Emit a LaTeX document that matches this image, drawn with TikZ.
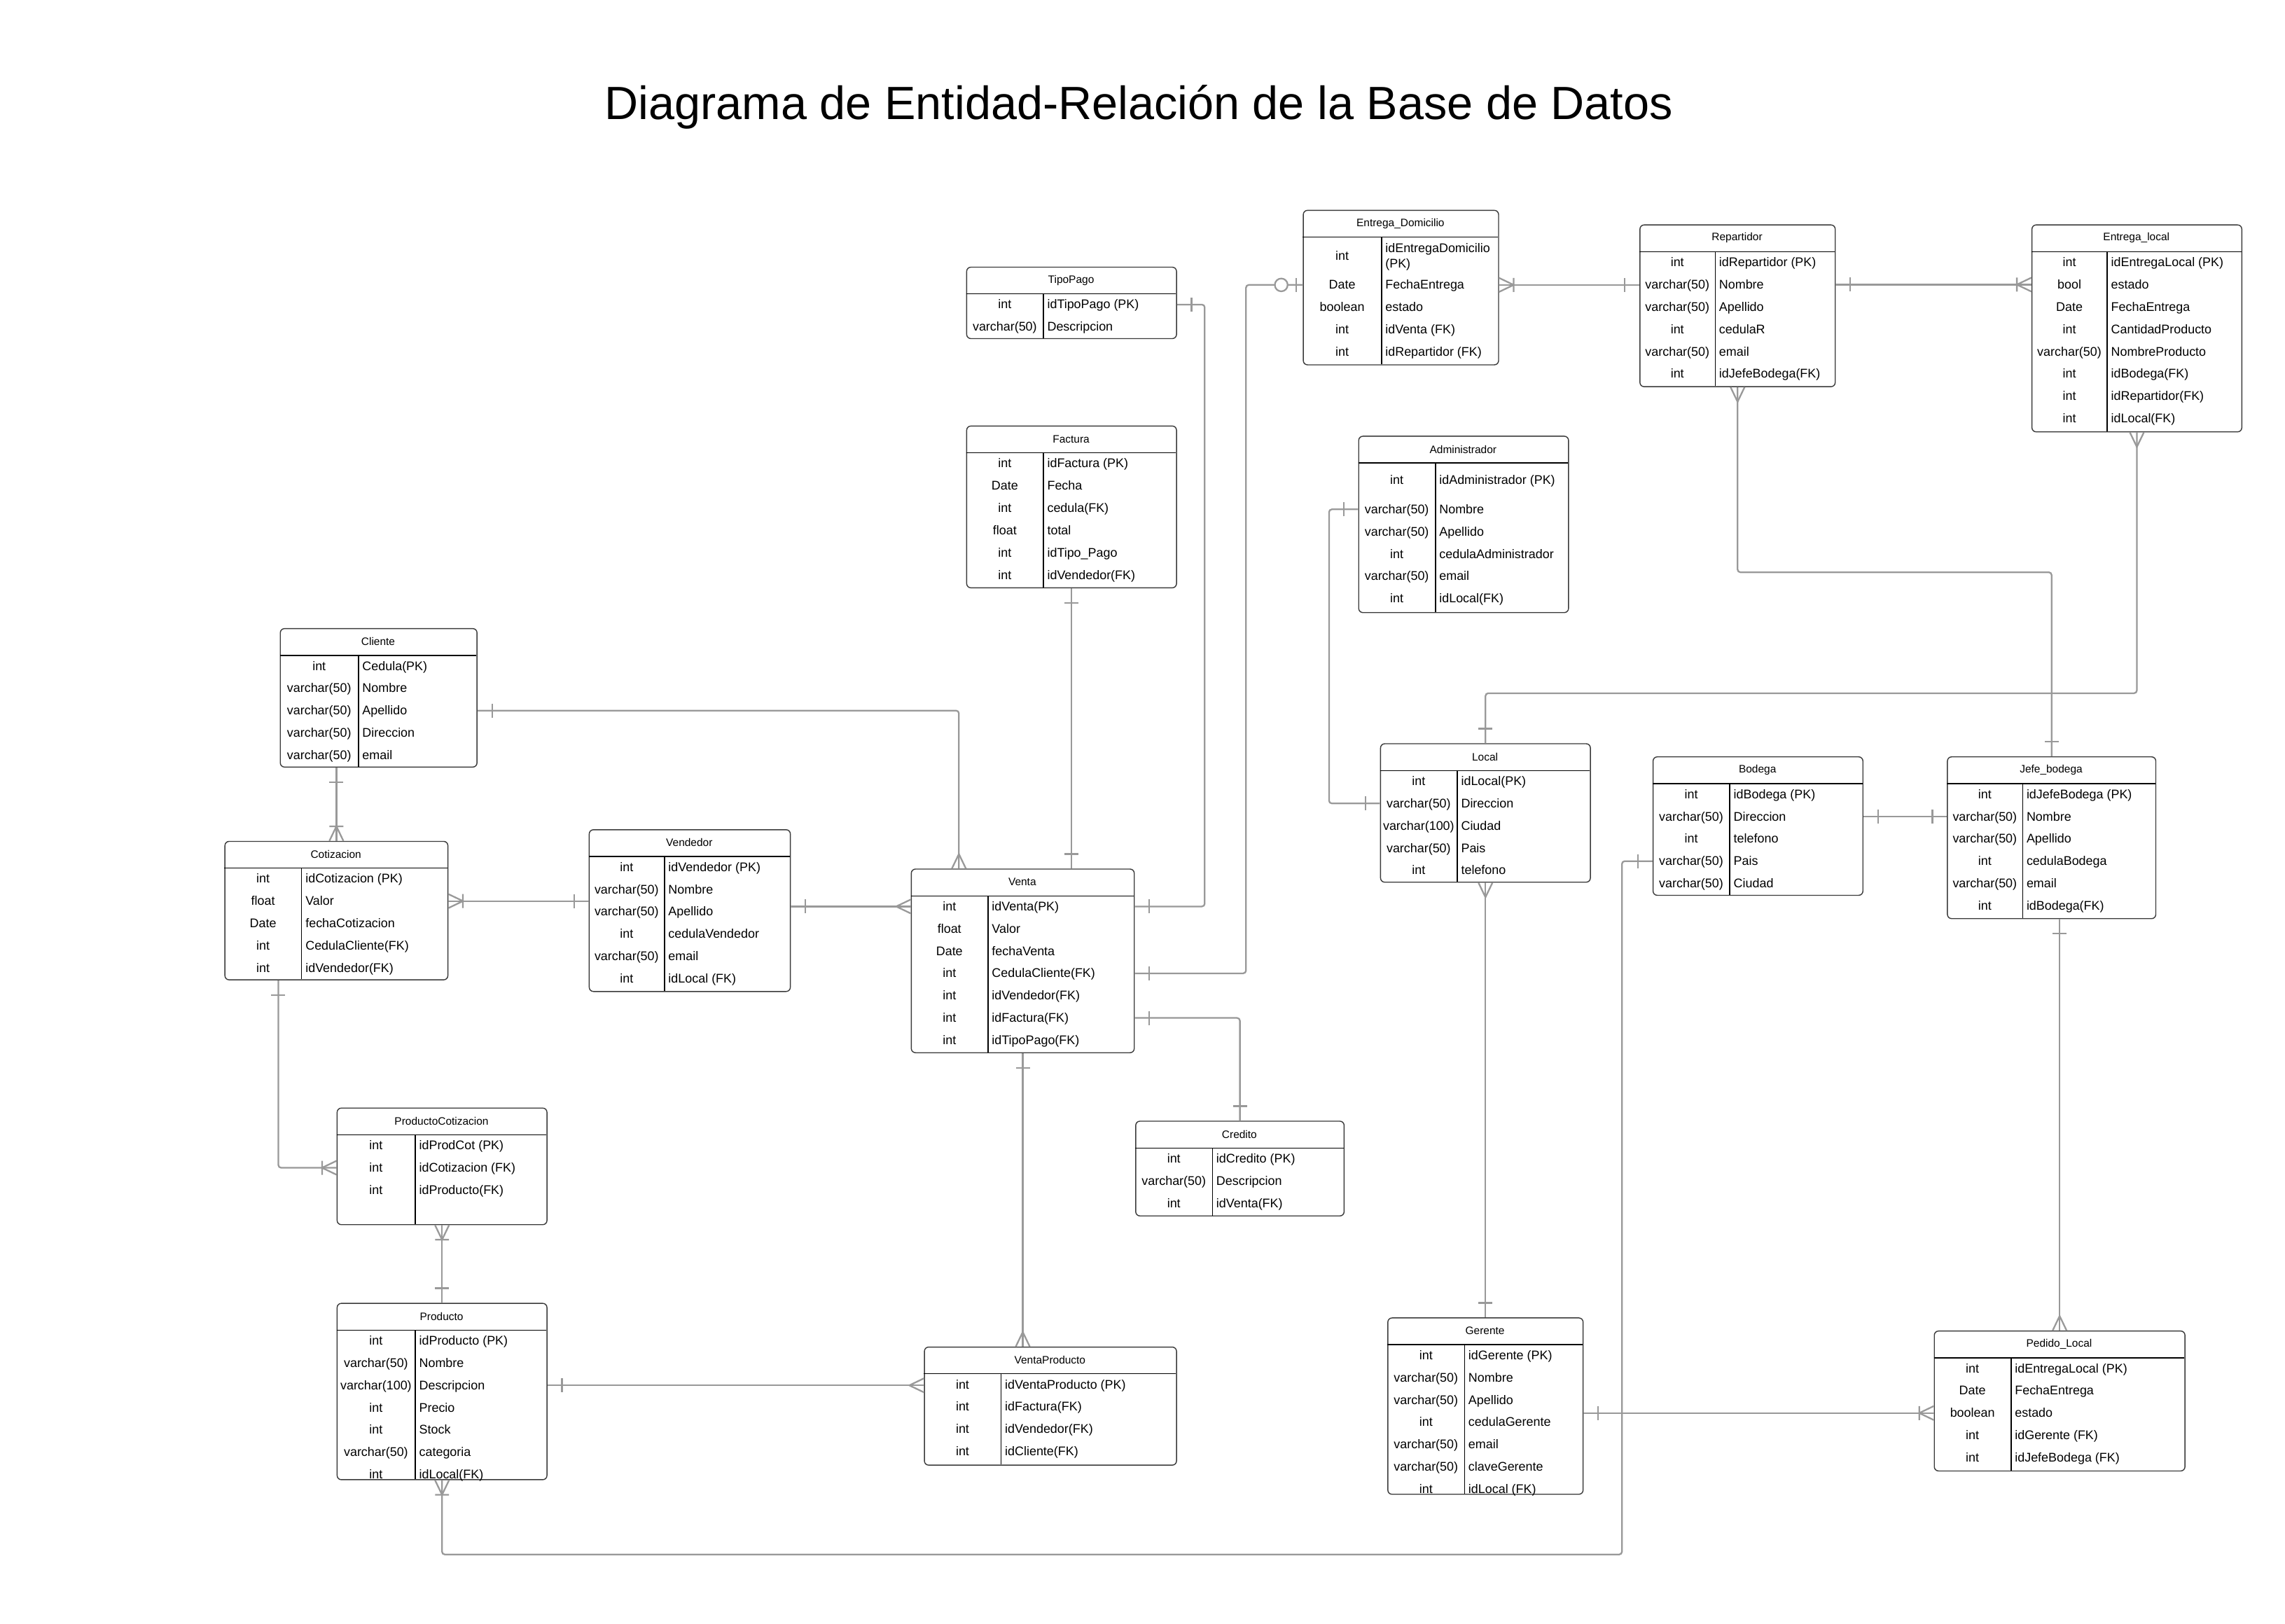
\documentclass[tikz,border=0pt]{standalone}
\usepackage{fontspec}
\setmainfont{Liberation Sans}
\usetikzlibrary{calc}

\definecolor{linea}{HTML}{999999}
\definecolor{bordecaja}{HTML}{3A3A3A}

\newcommand{\pxu}{0.4162mm}
\newcommand{\salto}{0}

% entidad: id, x, arriba, ancho, alto, division, nombre, primera fila, filas
\newcommand{\entidad}[9]{%
  \node[tabla, minimum width=#4*\pxu, minimum height=#5*\pxu, anchor=north west] (#1) at (#2,#3) {};
  \node[nombre] at (#2+#4/2,#3+9.3) {#7};
  \draw[raya] (#2,#3+18.7) -- ++(#4,0);
  \draw[raya] (#2+#6,#3+18.7) -- (#2+#6,#3+#5);
  \foreach \tipo/\campo [count=\i] in {#9}{
    \pgfmathsetmacro{\yfila}{#3+18.7+#8+(\i-1)*15.3+(\i>1)*\salto}
    \node[tipo] (#1-\i) at (#2+#6/2,\yfila) {\tipo};
    \node[campo] at (#2+#6+2.5,\yfila) {\campo};
  }%
}

\tikzset{
  uno/.pic={\draw[conector] (10,-4.8) -- (10,4.8);},
  muchos/.pic={\draw[conector] (0,-4.8) -- (10,0) -- (0,4.8);},
  unomuchos/.pic={\draw[conector] (0,-4.8) -- (10,0) -- (0,4.8) (10,-4.8) -- (10,4.8);},
  cerouno/.pic={\draw[conector] (4.5,-4.8) -- (4.5,4.8);
    \draw[conector,fill=white] (14.8,0) circle (4.4);}
}

\begin{document}
\begin{tikzpicture}[x=0.4162mm,y=-0.4162mm,
  tabla/.style={draw=bordecaja,fill=white,line width=0.8pt,rounded corners=1.2mm,inner sep=0pt},
  raya/.style={draw=black,line width=0.8pt},
  nombre/.style={font=\fontsize{8.8}{10.5}\selectfont,inner sep=0pt},
  tipo/.style={font=\fontsize{10.2}{12.3}\selectfont,inner sep=0pt,text height=0.9em,text depth=0.21em},
  campo/.style={tipo,anchor=west},
  conector/.style={draw=linea,line width=1.3pt}]
\fill[white] (0,0) rectangle (1568,1114);
\useasboundingbox (0,0) rectangle (1568,1114);

\node[font=\fontsize{37.9}{45}\selectfont,anchor=base] (titulo) at (781.5,82)
  {Diagrama de Entidad-Relación de la Base de Datos};

% tablas
\entidad{tipopago}{663}{183}{144}{49}{53}{TipoPago}{7.3}
  {int/idTipoPago (PK),varchar(50)/Descripcion}
\entidad{factura}{663}{292}{144}{111}{53}{Factura}{7.3}
  {int/idFactura (PK),Date/Fecha,int/cedula(FK),float/total,int/idTipo\_Pago,int/idVendedor(FK)}
\begin{scope}
\renewcommand{\salto}{4.7}
\entidad{entregaDom}{894}{144}{134}{106}{54}{Entrega\_Domicilio}{12.8}
  {int/{\raisebox{-.6em}{\shortstack[l]{idEntregaDomicilio\\(PK)}}},Date/FechaEntrega,
   boolean/estado,int/idVenta (FK),int/idRepartidor (FK)}
\entidad{admin}{932}{299}{144}{121}{53}{Administrador}{11.8}
  {int/idAdministrador (PK),varchar(50)/Nombre,varchar(50)/Apellido,
   int/cedulaAdministrador,varchar(50)/email,int/idLocal(FK)}
\end{scope}
\entidad{repartidor}{1125}{154}{134}{111}{52}{Repartidor}{7.3}
  {int/idRepartidor (PK),varchar(50)/Nombre,varchar(50)/Apellido,int/cedulaR,
   varchar(50)/email,int/idJefeBodega(FK)}
\entidad{entregaLocal}{1394}{154}{144}{142}{52}{Entrega\_local}{7.3}
  {int/idEntregaLocal (PK),bool/estado,Date/FechaEntrega,int/CantidadProducto,
   varchar(50)/NombreProducto,int/idBodega(FK),int/idRepartidor(FK),int/idLocal(FK)}
\entidad{cliente}{192}{431}{135}{95}{54}{Cliente}{7.3}
  {int/Cedula(PK),varchar(50)/Nombre,varchar(50)/Apellido,varchar(50)/Direccion,varchar(50)/email}
\entidad{cotizacion}{154}{577}{153}{95}{53}{Cotizacion}{7.3}
  {int/idCotizacion (PK),float/Valor,Date/fechaCotizacion,int/CedulaCliente(FK),int/idVendedor(FK)}
\entidad{vendedor}{404}{569}{138}{111}{52}{Vendedor}{7.3}
  {int/idVendedor (PK),varchar(50)/Nombre,varchar(50)/Apellido,int/cedulaVendedor,
   varchar(50)/email,int/idLocal (FK)}
\entidad{venta}{625}{596}{153}{126}{53}{Venta}{7.3}
  {int/idVenta(PK),float/Valor,Date/fechaVenta,int/CedulaCliente(FK),int/idVendedor(FK),
   int/idFactura(FK),int/idTipoPago(FK)}
\entidad{local}{947}{510}{144}{95}{53}{Local}{7.3}
  {int/idLocal(PK),varchar(50)/Direccion,varchar(100)/Ciudad,varchar(50)/Pais,int/telefono}
\entidad{bodega}{1134}{519}{144}{95}{53}{Bodega}{7.3}
  {int/idBodega (PK),varchar(50)/Direccion,int/telefono,varchar(50)/Pais,varchar(50)/Ciudad}
\entidad{jefe}{1336}{519}{143}{111}{52}{Jefe\_bodega}{7.3}
  {int/idJefeBodega (PK),varchar(50)/Nombre,varchar(50)/Apellido,int/cedulaBodega,
   varchar(50)/email,int/idBodega(FK)}
\entidad{credito}{779}{769}{143}{65}{53}{Credito}{7.3}
  {int/idCredito (PK),varchar(50)/Descripcion,int/idVenta(FK)}
\entidad{prodCot}{231}{760}{144}{80}{54}{ProductoCotizacion}{7.3}
  {int/idProdCot (PK),int/idCotizacion (FK),int/idProducto(FK)}
\entidad{producto}{231}{894}{144}{121}{54}{Producto}{7.3}
  {int/idProducto (PK),varchar(50)/Nombre,varchar(100)/Descripcion,int/Precio,int/Stock,
   varchar(50)/categoria,int/idLocal(FK)}
\entidad{ventaProd}{634}{924}{173}{81}{53}{VentaProducto}{7.3}
  {int/idVentaProducto (PK),int/idFactura(FK),int/idVendedor(FK),int/idCliente(FK)}
\entidad{gerente}{952}{904}{134}{121}{53}{Gerente}{7.3}
  {int/idGerente (PK),varchar(50)/Nombre,varchar(50)/Apellido,int/cedulaGerente,
   varchar(50)/email,varchar(50)/claveGerente,int/idLocal (FK)}
\entidad{pedido}{1327}{913}{172}{96}{53}{Pedido\_Local}{7.3}
  {int/idEntregaLocal (PK),Date/FechaEntrega,boolean/estado,int/idGerente (FK),int/idJefeBodega (FK)}

% relaciones
\begin{scope}[conector,rounded corners=0.8mm]
\draw (tipopago.east |- tipopago-1) -- ++(19,0) |- (venta.east |- venta-1);
\draw (entregaDom.west |- entregaDom-2) -- ++(-39,0) |- (venta.east |- venta-4);
\draw (venta.east |- venta-6) -| (credito.north);
\draw (factura.south) -- (venta.north -| factura.south);
\draw (cliente.east |- cliente-3) -| ($(venta.north west)+(33,0)$);
\draw (cliente.south -| cotizacion.north) -- (cotizacion.north);
\draw (cotizacion.east |- cotizacion-2) -- (vendedor.west |- cotizacion-2);
\draw (vendedor.east |- venta-1) -- (venta.west |- venta-1);
\draw ($(cotizacion.south west)+(37,0)$) |- (prodCot.west |- prodCot-2);
\draw (prodCot.south) -- (producto.north);
\draw (venta.south) -- (ventaProd.north -| venta.south);
\draw (producto.east |- producto-3) -- (ventaProd.west |- producto-3);
\draw (bodega.west |- bodega-4) -- ++(-21,0) |- ($(producto.south)+(0,51)$) -- (producto.south);
\draw (entregaDom.east |- entregaDom-2) -- (repartidor.west |- entregaDom-2);
\draw (repartidor.east |- repartidor-2) -- (entregaLocal.west |- repartidor-2);
\draw (repartidor.south) -- ++(0,127) -| (jefe.north);
\draw (entregaLocal.south) -- ++(0,179) -| (local.north);
\draw (admin.west |- admin-2) -- ++(-20,0) |- (local.west |- local-2);
\draw (local.south) -- (gerente.north);
\draw (bodega.east |- bodega-2) -- (jefe.west |- bodega-2);
\draw (jefe.south -| pedido.north) -- (pedido.north);
\draw (gerente.east |- pedido-3) -- (pedido.west |- pedido-3);
\end{scope}

% cardinalidades
\pic at (tipopago.east |- tipopago-1) {uno};
\pic at (venta.east |- venta-1) {uno};
\pic[rotate=180] at (entregaDom.west |- entregaDom-2) {cerouno};
\pic at (venta.east |- venta-4) {uno};
\pic at (venta.east |- venta-6) {uno};
\pic[rotate=90] at (credito.north) {uno};
\pic[rotate=-90] at (factura.south) {uno};
\pic[rotate=90] at (venta.north -| factura.south) {uno};
\pic at (cliente.east |- cliente-3) {uno};
\pic[rotate=90] at ($(venta.north west)+(33,0)$) {muchos};
\pic[rotate=-90] at (cliente.south -| cotizacion.north) {uno};
\pic[rotate=90] at (cotizacion.north) {unomuchos};
\pic at (cotizacion.east |- cotizacion-2) {unomuchos};
\pic[rotate=180] at (vendedor.west |- cotizacion-2) {uno};
\pic at (vendedor.east |- venta-1) {uno};
\pic[rotate=180] at (venta.west |- venta-1) {muchos};
\pic[rotate=-90] at ($(cotizacion.south west)+(37,0)$) {uno};
\pic[rotate=180] at (prodCot.west |- prodCot-2) {unomuchos};
\pic[rotate=-90] at (prodCot.south) {unomuchos};
\pic[rotate=90] at (producto.north) {uno};
\pic[rotate=-90] at (venta.south) {uno};
\pic[rotate=90] at (ventaProd.north -| venta.south) {muchos};
\pic at (producto.east |- producto-3) {uno};
\pic[rotate=180] at (ventaProd.west |- producto-3) {muchos};
\pic[rotate=-90] at (producto.south) {unomuchos};
\pic[rotate=180] at (bodega.west |- bodega-4) {uno};
\pic at (entregaDom.east |- entregaDom-2) {unomuchos};
\pic[rotate=180] at (repartidor.west |- entregaDom-2) {uno};
\pic at (repartidor.east |- repartidor-2) {uno};
\pic[rotate=180] at (entregaLocal.west |- repartidor-2) {unomuchos};
\pic[rotate=-90] at (repartidor.south) {muchos};
\pic[rotate=90] at (jefe.north) {uno};
\pic[rotate=-90] at (entregaLocal.south) {muchos};
\pic[rotate=90] at (local.north) {uno};
\pic[rotate=180] at (admin.west |- admin-2) {uno};
\pic[rotate=180] at (local.west |- local-2) {uno};
\pic[rotate=-90] at (local.south) {muchos};
\pic[rotate=90] at (gerente.north) {uno};
\pic at (bodega.east |- bodega-2) {uno};
\pic[rotate=180] at (jefe.west |- bodega-2) {uno};
\pic[rotate=-90] at (jefe.south -| pedido.north) {uno};
\pic[rotate=90] at (pedido.north) {muchos};
\pic at (gerente.east |- pedido-3) {uno};
\pic[rotate=180] at (pedido.west |- pedido-3) {unomuchos};
\end{tikzpicture}
\end{document}
